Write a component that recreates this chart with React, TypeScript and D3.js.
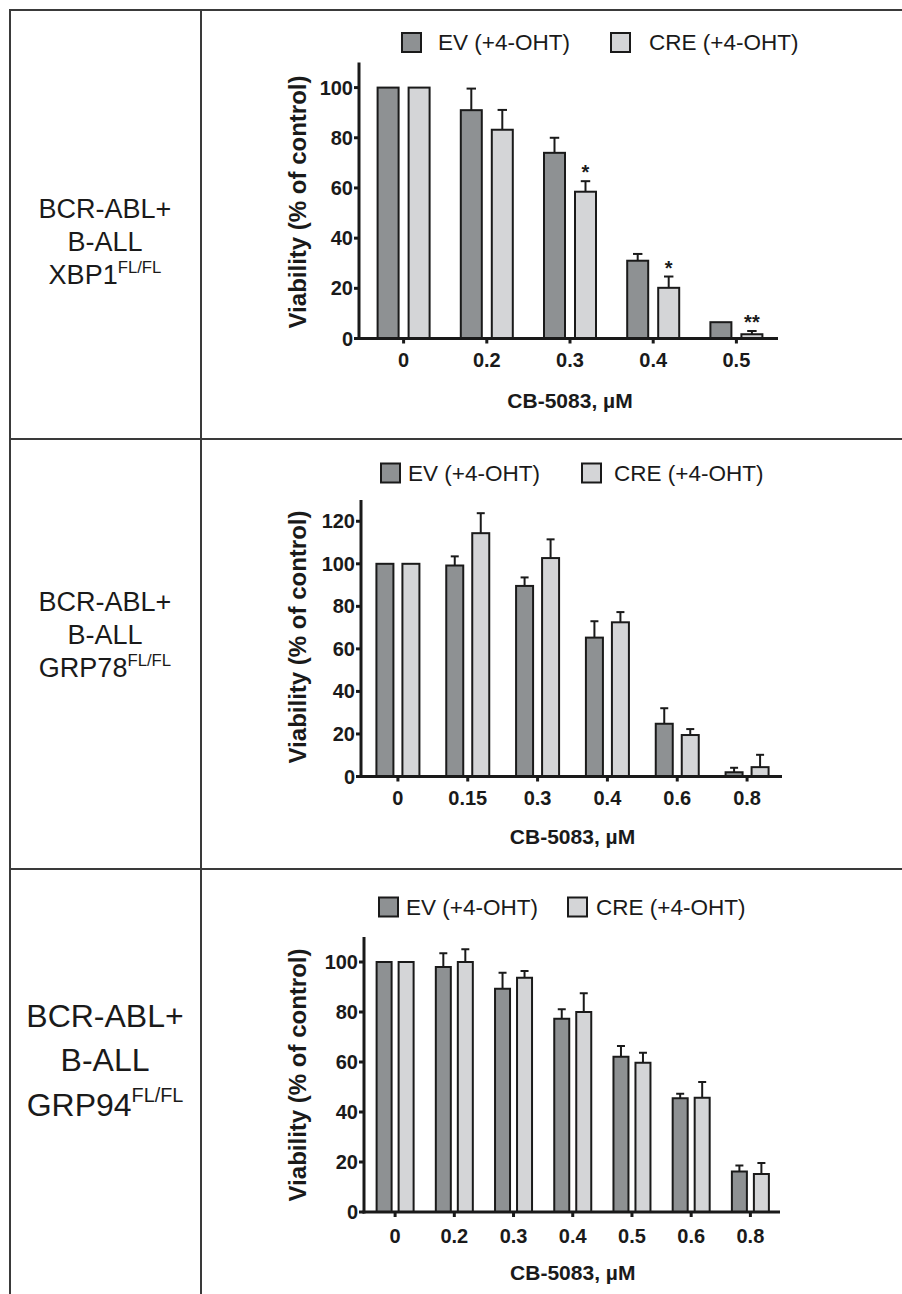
import React from "react";
import * as d3 from "d3";

// ---------- data ----------
const seriesNames = ["EV (+4-OHT)", "CRE (+4-OHT)"];
const rowLabels = [
  ["BCR-ABL+", "B-ALL", "XBP1"],
  ["BCR-ABL+", "B-ALL", "GRP78"],
  ["BCR-ABL+", "B-ALL", "GRP94"],
];
const superscript = "FL/FL";
const yTitle = "Viability (% of control)";
const xTitle = "CB-5083, \u00b5M";

const p1Categories = ["0", "0.2", "0.3", "0.4", "0.5"];
const p1EV = [100, 91, 74, 31, 6.5];
const p1EVErr = [0, 8.6, 6, 2.7, 0];
const p1CRE = [100, 83.2, 58.5, 20.2, 1.7];
const p1CREErr = [0, 7.9, 4.2, 4.5, 1.3];
const p1Stars = ["", "", "*", "*", "**"];
const p1Ticks = [0, 20, 40, 60, 80, 100];

const p2Categories = ["0", "0.15", "0.3", "0.4", "0.6", "0.8"];
const p2EV = [100, 99.2, 89.6, 65.3, 24.8, 2];
const p2EVErr = [0, 4.3, 4, 7.7, 7.3, 2.1];
const p2CRE = [100, 114.4, 102.7, 72.5, 19.5, 4.4];
const p2CREErr = [0, 9.4, 8.8, 4.8, 2.8, 5.8];
const p2Stars = ["", "", "", "", "", ""];
const p2Ticks = [0, 20, 40, 60, 80, 100, 120];

const p3Categories = ["0", "0.2", "0.3", "0.4", "0.5", "0.6", "0.8"];
const p3EV = [100, 98, 89.3, 77.3, 62.1, 45.5, 16.2];
const p3EVErr = [0, 5.5, 6.4, 3.8, 4.3, 1.8, 2.4];
const p3CRE = [100, 100, 93.7, 80, 59.7, 45.7, 15.2];
const p3CREErr = [0, 5.1, 2.7, 7.5, 4, 6.3, 4.4];
const p3Stars = ["", "", "", "", "", "", ""];
const p3Ticks = [0, 20, 40, 60, 80, 100];

// ---------- styles ----------
const FONT = "'Liberation Sans', Arial, Helvetica, sans-serif";
const EV_FILL = "#8e9193";
const CRE_FILL = "#d4d5d7";
const INK = "#1a1a1a";
const GRID = "#3a3a3a";

type Layout = {
  axisX: number;
  y0: number;
  yTopPx: number;
  yMax: number;
  xRange: [number, number];
  barW: number;
  halfGap: number;
  legendY: number;
  legendBoxX: [number, number];
  legendTextX: [number, number];
  yTitleY: number;
  tickLabelY: number;
  xTitleY: number;
  labelYs: number[];
  labelFont: number;
};

const layouts: Layout[] = [
  {
    axisX: 359, y0: 338.5, yTopPx: 62.5, yMax: 110, xRange: [362, 778], barW: 21, halfGap: 5,
    legendY: 42.5, legendBoxX: [402, 611], legendTextX: [438, 649],
    yTitleY: 202, tickLabelY: 360, xTitleY: 400, labelYs: [209, 242, 275], labelFont: 27,
  },
  {
    axisX: 361, y0: 776.5, yTopPx: 500, yMax: 130, xRange: [363, 782], barW: 17, halfGap: 4.5,
    legendY: 473, legendBoxX: [381, 582], legendTextX: [408, 614],
    yTitleY: 637, tickLabelY: 798, xTitleY: 836, labelYs: [602, 635, 668], labelFont: 27,
  },
  {
    axisX: 364, y0: 1212, yTopPx: 937, yMax: 110, xRange: [365.5, 780], barW: 15, halfGap: 3.5,
    legendY: 907, legendBoxX: [379, 568], legendTextX: [406, 596],
    yTitleY: 1075, tickLabelY: 1236, xTitleY: 1272, labelYs: [1016, 1060, 1105], labelFont: 32,
  },
];

const panelData = [
  { cats: p1Categories, ev: p1EV, evErr: p1EVErr, cre: p1CRE, creErr: p1CREErr, stars: p1Stars, ticks: p1Ticks },
  { cats: p2Categories, ev: p2EV, evErr: p2EVErr, cre: p2CRE, creErr: p2CREErr, stars: p2Stars, ticks: p2Ticks },
  { cats: p3Categories, ev: p3EV, evErr: p3EVErr, cre: p3CRE, creErr: p3CREErr, stars: p3Stars, ticks: p3Ticks },
];

function Panel({ idx }: { idx: number }) {
  const L = layouts[idx];
  const D = panelData[idx];
  const x = d3.scaleBand<string>().domain(D.cats).range(L.xRange).padding(0);
  const y = d3.scaleLinear().domain([0, L.yMax]).range([L.y0, L.yTopPx]);
  const cx = (c: string) => (x(c) as number) + x.bandwidth() / 2;
  const series = [
    { vals: D.ev, errs: D.evErr, fill: EV_FILL, off: -L.halfGap - L.barW },
    { vals: D.cre, errs: D.creErr, fill: CRE_FILL, off: L.halfGap },
  ];
  const capW = Math.max(8, L.barW * 0.45);
  return (
    <g>
      {/* legend */}
      {seriesNames.map((name, i) => (
        <g key={name}>
          <rect x={L.legendBoxX[i]} y={L.legendY - 9.5} width={19} height={19}
            fill={i === 0 ? EV_FILL : CRE_FILL} stroke={INK} strokeWidth={2} />
          <text x={L.legendTextX[i]} y={L.legendY} dominantBaseline="central"
            fontSize={22.5} fontFamily={FONT} fill={INK}>{name}</text>
        </g>
      ))}
      {/* bars */}
      {series.map((s, si) => (
        <g key={si}>
          {D.cats.map((c, i) => {
            const bx = cx(c) + s.off;
            const top = y(s.vals[i]);
            const mid = bx + L.barW / 2;
            const errTop = y(s.vals[i] + s.errs[i]);
            return (
              <g key={c}>
                {s.errs[i] > 0 && (
                  <g stroke={INK} strokeWidth={2}>
                    <line x1={mid} x2={mid} y1={top} y2={errTop} />
                    <line x1={mid - capW / 2} x2={mid + capW / 2} y1={errTop} y2={errTop} />
                  </g>
                )}
                <rect x={bx} y={top} width={L.barW} height={L.y0 - top}
                  fill={s.fill} stroke={INK} strokeWidth={2} />
              </g>
            );
          })}
        </g>
      ))}
      {/* significance stars */}
      {D.cats.map((c, i) =>
        D.stars[i] ? (
          <text key={"s" + c} x={cx(c) + L.halfGap + L.barW / 2}
            y={y(D.cre[i] + D.creErr[i]) - 2} textAnchor="middle"
            fontSize={20} fontWeight="bold" fontFamily={FONT} fill={INK}>{D.stars[i]}</text>
        ) : null
      )}
      {/* y axis */}
      <line x1={L.axisX} x2={L.axisX} y1={L.yTopPx} y2={L.y0 + 1.5} stroke={INK} strokeWidth={3} />
      {D.ticks.map((t) => (
        <g key={"yt" + t}>
          <line x1={L.axisX - 5} x2={L.axisX} y1={y(t)} y2={y(t)} stroke={INK} strokeWidth={3} />
          <text x={L.axisX - 6} y={y(t)} textAnchor="end" dominantBaseline="central"
            fontSize={20} fontWeight="bold" fontFamily={FONT} fill={INK}>{t}</text>
        </g>
      ))}
      {/* x axis */}
      <line x1={L.axisX - 1.5} x2={L.xRange[1]} y1={L.y0} y2={L.y0} stroke={INK} strokeWidth={3} />
      {D.cats.map((c) => (
        <g key={"xt" + c}>
          <line x1={cx(c)} x2={cx(c)} y1={L.y0} y2={L.y0 + 5} stroke={INK} strokeWidth={3} />
          <text x={cx(c)} y={L.tickLabelY} textAnchor="middle" dominantBaseline="central"
            fontSize={20} fontWeight="bold" fontFamily={FONT} fill={INK}>{c}</text>
        </g>
      ))}
      {/* titles */}
      <text transform={`translate(297,${L.yTitleY}) rotate(-90)`} textAnchor="middle"
        dominantBaseline="central" fontSize={24} fontWeight="bold" fontFamily={FONT} fill={INK}>{yTitle}</text>
      <text x={(L.xRange[0] + L.xRange[1]) / 2} y={L.xTitleY} textAnchor="middle"
        dominantBaseline="central" fontSize={21} fontWeight="bold" fontFamily={FONT} fill={INK}>{xTitle}</text>
      {/* row label */}
      {rowLabels[idx].map((line, li) => (
        <text key={li} x={105} y={L.labelYs[li]} textAnchor="middle" dominantBaseline="central"
          fontSize={L.labelFont} fontFamily={FONT} fill={INK}>
          {line}
          {li === 2 && (
            <tspan fontSize={L.labelFont * 0.62} dy={-L.labelFont * 0.3}>{superscript}</tspan>
          )}
        </text>
      ))}
    </g>
  );
}

export default function App() {
  return (
    <svg width={902} height={1294} viewBox="0 0 902 1294"
      style={{ position: "absolute", left: 0, top: 0, display: "block", background: "#fff" }}>
      <rect x={0} y={0} width={902} height={1294} fill="#fff" />
      {/* table grid */}
      <g stroke={GRID} strokeWidth={2}>
        <line x1={10} x2={902} y1={10} y2={10} />
        <line x1={10} x2={10} y1={9} y2={1294} />
        <line x1={201} x2={201} y1={9} y2={1294} />
        <line x1={10} x2={902} y1={439} y2={439} />
        <line x1={10} x2={902} y1={869} y2={869} />
      </g>
      {[0, 1, 2].map((i) => (
        <Panel key={i} idx={i} />
      ))}
    </svg>
  );
}
